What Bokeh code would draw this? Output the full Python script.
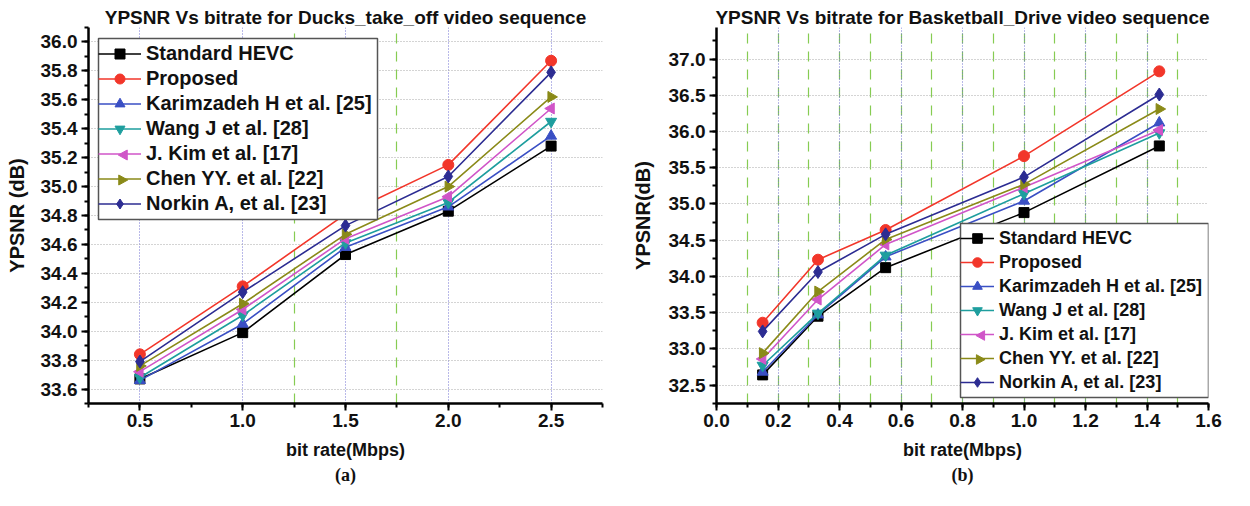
import math
from bokeh.plotting import figure
from bokeh.layouts import row
from bokeh.models import (Legend, LegendItem, SingleIntervalTicker, FixedTicker, Grid,
                          Title, Range1d, NumeralTickFormatter, PolyAnnotation, BoxAnnotation)
from bokeh.embed import file_html
from bokeh.resources import INLINE

# ---------------- data ----------------
series_names = ["Standard HEVC", "Proposed", "Karimzadeh H et al. [25]", "Wang J et al. [28]",
                "J. Kim et al. [17]", "Chen YY. et al. [22]", "Norkin A, et al. [23]"]

ducks_bitrate = [0.5, 1.0, 1.5, 2.0, 2.5]
ducks_hevc = [33.67, 33.99, 34.53, 34.83, 35.28]
ducks_proposed = [33.84, 34.31, 34.81, 35.15, 35.87]
ducks_karimzadeh = [33.66, 34.05, 34.58, 34.86, 35.35]
ducks_wang = [33.68, 34.11, 34.61, 34.89, 35.45]
ducks_kim = [33.72, 34.15, 34.64, 34.93, 35.54]
ducks_chen = [33.76, 34.19, 34.67, 35.00, 35.62]
ducks_norkin = [33.79, 34.27, 34.73, 35.07, 35.79]

basket_bitrate = [0.15, 0.33, 0.55, 1.0, 1.44]
basket_hevc = [32.64, 33.45, 34.12, 34.88, 35.80]
basket_proposed = [33.36, 34.23, 34.64, 35.66, 36.83]
basket_karimzadeh = [32.68, 33.47, 34.27, 35.04, 36.12]
basket_wang = [32.77, 33.49, 34.29, 35.14, 35.98]
basket_kim = [32.86, 33.68, 34.44, 35.23, 36.02]
basket_chen = [32.94, 33.79, 34.51, 35.27, 36.31]
basket_norkin = [33.24, 34.06, 34.58, 35.37, 36.51]

# ---------------- styles ----------------
colors = ["#000000", "#f2362a", "#3a4fc4", "#1e9e9e", "#d055c8", "#8a8a18", "#2c2c92"]
markers = ["square", "circle", "triangle", "inverted_triangle", "triangle", "triangle", "diamond"]
angles = [0, 0, 0, 0, math.pi / 2, -math.pi / 2, 0]
sizes = [10, 11, 11, 11, 11, 11, 13]

FONT = "Liberation Sans"


def style_axes(p):
    for ax in (p.xaxis, p.yaxis):
        ax.axis_line_width = 2.5
        ax.axis_line_color = "black"
        ax.major_tick_line_width = 2
        ax.minor_tick_line_width = 2
        ax.major_tick_out = 7
        ax.major_tick_in = 0
        ax.minor_tick_out = 4
        ax.minor_tick_in = 0
        ax.major_label_text_font = FONT
        ax.major_label_text_font_style = "bold"
        ax.major_label_text_font_size = "19px"
        ax.major_label_text_color = "#111111"
        ax.axis_label_text_font = FONT
        ax.axis_label_text_font_style = "bold"
        ax.axis_label_text_color = "#111111"
    p.xaxis.axis_label_text_font_size = "18px"
    p.yaxis.axis_label_text_font_size = "20px"
    p.xaxis.major_label_standoff = 3
    p.yaxis.major_label_standoff = 4
    p.xaxis.formatter = NumeralTickFormatter(format="0.0")
    p.yaxis.formatter = NumeralTickFormatter(format="0.0")


def make_plot(title, letter, xs, ys_list, xr, yr, xtick, ytick, fw, fh,
              mbl, mbr, mbt, mbb, ylabel, leg_xy, leg_w, legend_font, row_h, glyph_w,
              green_minor, ylabel_standoff):
    p = figure(frame_width=fw, frame_height=fh, x_range=Range1d(*xr), y_range=Range1d(*yr),
               output_backend="svg", toolbar_location=None,
               min_border_left=mbl, min_border_right=mbr, min_border_top=mbt, min_border_bottom=mbb)
    p.outline_line_color = None
    p.background_fill_color = "white"
    p.border_fill_color = "white"

    p.title.text = title
    p.title.text_font = FONT
    p.title.text_font_style = "bold"
    p.title.text_font_size = "19px"
    p.title.align = "center"
    p.title.text_color = "#111111"
    p.title.standoff = 0

    p.xaxis.ticker = SingleIntervalTicker(interval=xtick, num_minor_ticks=2)
    p.yaxis.ticker = SingleIntervalTicker(interval=ytick, num_minor_ticks=2)
    p.xaxis.axis_label = "bit rate(Mbps)"
    p.yaxis.axis_label = ylabel
    style_axes(p)
    p.xaxis.axis_label_standoff = 10
    p.yaxis.axis_label_standoff = ylabel_standoff

    # grids
    p.xgrid.grid_line_color = "#7272d2"
    p.xgrid.grid_line_dash = "1 2"
    p.xgrid.grid_line_width = 1
    p.ygrid.grid_line_color = "#a8a8a8"
    p.ygrid.grid_line_dash = "1 2"
    p.ygrid.grid_line_width = 1
    if green_minor is None:
        p.xgrid.minor_grid_line_color = "#86cc52"
        p.xgrid.minor_grid_line_dash = "10 8"
        p.xgrid.minor_grid_line_width = 1.2
    else:
        g = Grid(dimension=0, ticker=FixedTicker(ticks=green_minor),
                 grid_line_color="#86cc52", grid_line_dash="10 8", grid_line_width=1.2)
        p.add_layout(g)

    # legend geometry: location relative to frame bottom-left; box in canvas px
    pad = 3
    n = len(ys_list)
    leg_h = n * row_h + 2 * pad
    lx, ly = leg_xy
    box_left = mbl + lx
    box_top = mbt + fh - ly - leg_h + 3

    items = []
    for i, ys in enumerate(ys_list):
        lr = p.line(xs, ys, line_color=colors[i], line_width=1.6)
        sr = p.scatter(xs, ys, marker=markers[i], angle=angles[i], size=sizes[i],
                       fill_color=colors[i], line_color=colors[i])
        if angles[i] == 0:
            items.append(LegendItem(label=series_names[i], renderers=[lr, sr]))
        else:
            items.append(LegendItem(label=series_names[i], renderers=[lr]))

    # legend frame drawn as a box so that rotated markers can sit above it
    p.add_layout(BoxAnnotation(left=box_left, right=box_left + leg_w,
                               top=box_top, bottom=box_top + leg_h,
                               left_units="canvas", right_units="canvas",
                               top_units="canvas", bottom_units="canvas",
                               fill_color="white", fill_alpha=1.0,
                               line_color="#555555", line_width=1.5, line_alpha=1.0), "center")

    half = 0.4 * min(glyph_w, row_h) / 2
    for i in range(n):
        if angles[i] != 0:
            cx = box_left + pad + glyph_w / 2
            cy = box_top + pad + (i + 0.5) * row_h + 1
            d = 1 if angles[i] > 0 else -1   # +1: points left, -1: points right
            tx = [cx - d * half * 0.95, cx + d * half * 0.85, cx + d * half * 0.85]
            ty = [cy, cy - half, cy + half]
            p.add_layout(PolyAnnotation(xs=tx, ys=ty, xs_units="canvas", ys_units="canvas",
                                        fill_color=colors[i], fill_alpha=1.0,
                                        line_color=colors[i], line_width=1, line_alpha=1.0),
                         "center")

    leg = Legend(items=items, location=(lx, ly))
    leg.label_text_font = FONT
    leg.label_text_font_style = "bold"
    leg.label_text_font_size = legend_font
    leg.label_text_color = "#111111"
    leg.label_height = row_h
    leg.glyph_height = row_h
    leg.glyph_width = glyph_w
    leg.label_standoff = 5
    leg.spacing = 0
    leg.padding = pad
    leg.margin = 0
    leg.border_line_color = None
    leg.background_fill_alpha = 0.0
    p.add_layout(leg, "center")

    p.add_layout(Title(text=letter, align="center", text_font="Liberation Serif",
                       text_font_style="bold", text_font_size="18px", text_color="#111111",
                       standoff=0), "below")
    return p


p1 = make_plot("YPSNR Vs bitrate for Ducks_take_off video sequence", "(a)",
               ducks_bitrate,
               [ducks_hevc, ducks_proposed, ducks_karimzadeh, ducks_wang, ducks_kim, ducks_chen, ducks_norkin],
               (0.25, 2.75), (33.5, 36.1), 0.5, 0.2, 514, 376,
               88, 18, 27, 85, "YPSNR (dB)", (10, 187), 279, "20px", 25, 43, [1.25, 1.75], 10)

p2 = make_plot("YPSNR Vs bitrate for Basketball_Drive video sequence", "(b)",
               basket_bitrate,
               [basket_hevc, basket_proposed, basket_karimzadeh, basket_wang, basket_kim, basket_chen, basket_norkin],
               (0.0, 1.6), (32.245, 37.435), 0.2, 0.5, 492, 376,
               96, 26, 27, 85, "YPSNR(dB)", (244, 9), 248, "18px", 24, 34, None, 12)

layout = row(p1, p2)
open("out.html", "w").write(file_html(layout, INLINE))
